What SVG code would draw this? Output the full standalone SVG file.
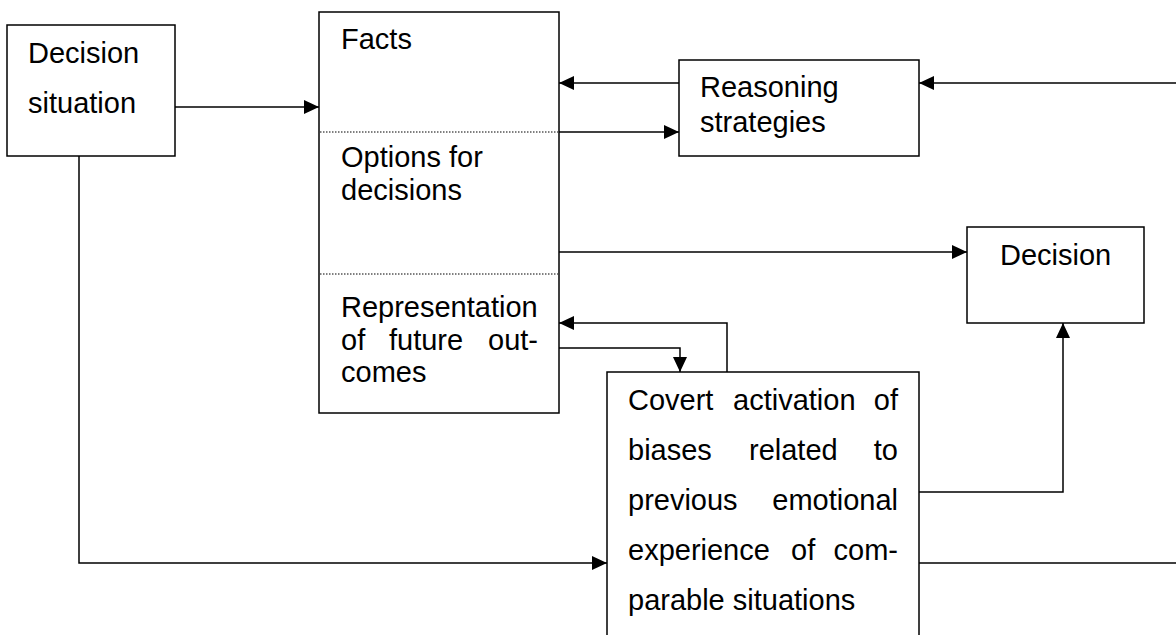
<svg xmlns="http://www.w3.org/2000/svg" width="1176" height="635" viewBox="0 0 1176 635">
<style>
.box{fill:#fff;stroke:#000;stroke-width:1.5}
.dot{stroke:#000;stroke-width:1;stroke-dasharray:1.5,1.5;fill:none}
.ln{fill:none;stroke:#000;stroke-width:1.5}
.ar{marker-end:url(#ah)}
text{font-family:"Liberation Sans",Arial,sans-serif;font-size:29px;fill:#000}
</style>
<defs>
<marker id="ah" markerUnits="userSpaceOnUse" markerWidth="16" markerHeight="14" refX="15" refY="7" orient="auto">
<path d="M0,0 L15,7 L0,14 z" fill="#000"/>
</marker>
</defs>
<rect width="1176" height="635" fill="#fff"/>
<g id="connectors">
<path class="ln ar" d="M175,107 H319"/>
<path class="ln ar" d="M1176,83 H919"/>
<path class="ln ar" d="M679,83 H559"/>
<path class="ln ar" d="M559,132 H679"/>
<path class="ln ar" d="M559,252 H967"/>
<path class="ln ar" d="M727,372 V323 H559"/>
<path class="ln ar" d="M559,348 H680 V372"/>
<path class="ln ar" d="M79,156 V563 H607"/>
<path class="ln ar" d="M919,492 H1063 V323"/>
<path class="ln" d="M919,563 H1176"/>
</g>
<g id="decision-situation">
<rect class="box" x="7" y="25" width="168" height="131"/>
<text x="28" y="63">Decision</text>
<text x="28" y="113">situation</text>
</g>
<g id="facts">
<rect class="box" x="319" y="12" width="240" height="401"/>
<line class="dot" x1="320" y1="132" x2="558" y2="132"/>
<line class="dot" x1="320" y1="274" x2="558" y2="274"/>
<text x="341" y="49">Facts</text>
<text x="341" y="167">Options for</text>
<text x="341" y="200">decisions</text>
<text x="341" y="317">Representation</text>
<text x="341" y="350">of</text>
<text x="389" y="350">future</text>
<text x="538" y="350" text-anchor="end">out-</text>
<text x="341" y="382">comes</text>
</g>
<g id="reasoning">
<rect class="box" x="679" y="60" width="240" height="96"/>
<text x="700" y="97">Reasoning</text>
<text x="700" y="132">strategies</text>
</g>
<g id="decision">
<rect class="box" x="967" y="227" width="177" height="96"/>
<text x="1000" y="265">Decision</text>
</g>
<g id="covert">
<rect class="box" x="607" y="372" width="312" height="275"/>
<text x="628" y="410">Covert</text>
<text x="733" y="410">activation</text>
<text x="898" y="410" text-anchor="end">of</text>
<text x="628" y="460">biases</text>
<text x="749" y="460">related</text>
<text x="898" y="460" text-anchor="end">to</text>
<text x="628" y="510">previous</text>
<text x="898" y="510" text-anchor="end">emotional</text>
<text x="628" y="560">experience</text>
<text x="791" y="560">of</text>
<text x="898" y="560" text-anchor="end">com-</text>
<text x="628" y="610">parable situations</text>
</g>
</svg>
